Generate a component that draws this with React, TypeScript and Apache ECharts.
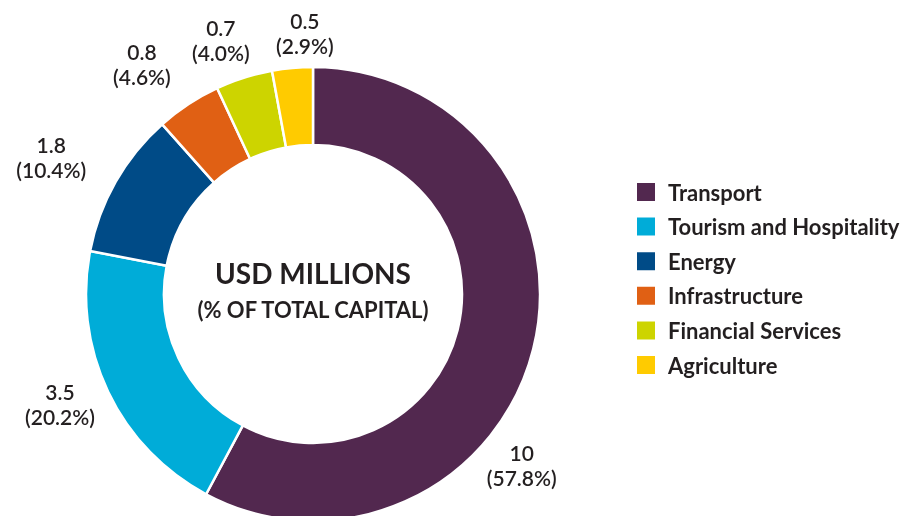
import React, { useEffect, useRef } from "react";
import * as echarts from "echarts";

const categories = [
  "Transport",
  "Tourism and Hospitality",
  "Energy",
  "Infrastructure",
  "Financial Services",
  "Agriculture",
];
const values = [10, 3.5, 1.8, 0.8, 0.7, 0.5];
const colors = ["#52284f", "#00acd8", "#004b87", "#e06014", "#cdd400", "#ffcb00"];
const centerTitle = "USD MILLIONS";
const centerSubtitle = "(% OF TOTAL CAPITAL)";

// small label nudges (px) relative to ECharts' outside label placement
const labelDx = [-60, -3, -21, -19, -8, 17];
const labelDy = [104, -9, 0, 2, 10, 15];

const FONT = "Lato, 'Open Sans', sans-serif";
const TEXT = "#231f20";

export default function App() {
  const ref = useRef<HTMLDivElement>(null);
  useEffect(() => {
    if (!ref.current) return;
    const chart = echarts.init(ref.current, undefined, { renderer: "svg" });
    const total = values.reduce((a, b) => a + b, 0);
    chart.setOption({
      animation: false,
      textStyle: { fontFamily: FONT },
      legend: {
        orient: "vertical",
        left: 635,
        top: 181,
        padding: 0,
        itemWidth: 20,
        itemHeight: 20,
        itemGap: 12.6,
        icon: "rect",
        selectedMode: false,
        textStyle: {
          fontFamily: FONT,
          fontSize: 22,
          fontWeight: "bold",
          lineHeight: 20,
          color: TEXT,
          padding: [0, 0, 0, 7],
        },
        data: categories,
      },
      graphic: [
        {
          type: "text",
          x: 313,
          y: 273,
          style: {
            text: centerTitle,
            align: "center",
            verticalAlign: "middle",
            fontFamily: FONT,
            fontSize: 28,
            fontWeight: "bold",
            fill: TEXT,
          },
        },
        {
          type: "text",
          x: 313,
          y: 309,
          style: {
            text: centerSubtitle,
            align: "center",
            verticalAlign: "middle",
            fontFamily: FONT,
            fontSize: 22,
            fontWeight: "bold",
            fill: TEXT,
          },
        },
      ],
      series: [
        {
          type: "pie",
          center: [313, 294],
          radius: [149, 227],
          startAngle: 90,
          clockwise: true,
          avoidLabelOverlap: false,
          itemStyle: { borderColor: "#ffffff", borderWidth: 2.5 },
          label: {
            show: true,
            position: "outside",
            distanceToLabelLine: 0,
            fontFamily: FONT,
            fontSize: 21,
            fontWeight: 600,
            lineHeight: 25,
            color: TEXT,
            formatter: (p: any) => `${p.value}\n(${((p.value / total) * 100).toFixed(1)}%)`,
          },
          labelLine: { show: false, length: 50, length2: 0 },
          labelLayout: (p: any) => ({
            align: "center",
            verticalAlign: "middle",
            dx: labelDx[p.dataIndex],
            dy: labelDy[p.dataIndex],
          }),
          emphasis: { disabled: true },
          data: categories.map((name, i) => ({
            name,
            value: values[i],
            itemStyle: { color: colors[i] },
          })),
        },
      ],
    });
    return () => chart.dispose();
  }, []);
  return (
    <div
      ref={ref}
      style={{ position: "fixed", left: 0, top: 0, width: 901, height: 516 }}
    />
  );
}
